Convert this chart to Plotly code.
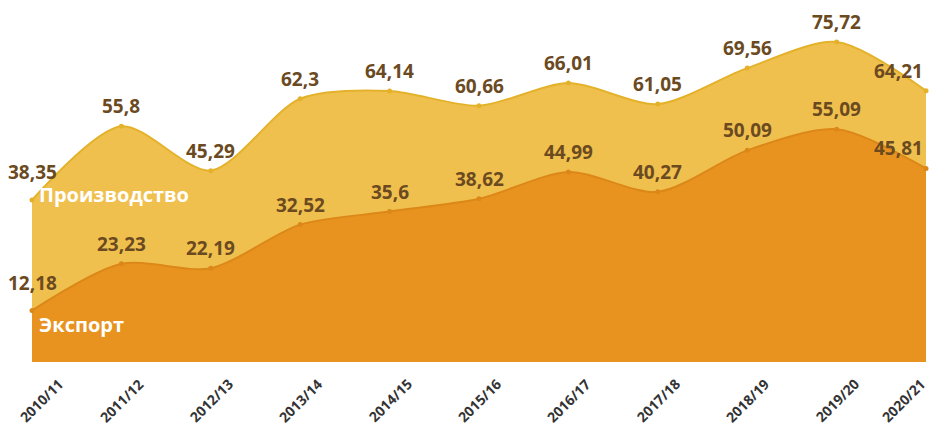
import plotly.graph_objects as go

categories = ["2010/11", "2011/12", "2012/13", "2013/14", "2014/15", "2015/16",
              "2016/17", "2017/18", "2018/19", "2019/20", "2020/21"]
production = [38.35, 55.8, 45.29, 62.3, 64.14, 60.66, 66.01, 61.05, 69.56, 75.72, 64.21]
export = [12.18, 23.23, 22.19, 32.52, 35.6, 38.62, 44.99, 40.27, 50.09, 55.09, 45.81]
series_names = ["Производство", "Экспорт"]

FONT = "Open Sans"
LABEL_COLOR = "#6B4A1F"

def fmt(v):
    s = f"{v:.2f}".rstrip("0").rstrip(".")
    return s.replace(".", ",")

fig = go.Figure()
fig.add_trace(go.Scatter(
    x=categories, y=production, mode="lines+markers", fill="tozeroy",
    line=dict(shape="spline", smoothing=0.8, color="#E4B22A", width=2),
    marker=dict(size=5, color="#E4B22A"),
    fillcolor="#F0C04F", name=series_names[0], cliponaxis=False, hoverinfo="skip"))
fig.add_trace(go.Scatter(
    x=categories, y=export, mode="lines+markers", fill="tozeroy",
    line=dict(shape="spline", smoothing=0.8, color="#DC8818", width=2),
    marker=dict(size=5, color="#DC8818"),
    fillcolor="#E8921F", name=series_names[1], cliponaxis=False, hoverinfo="skip"))

annotations = []
n = len(categories)
for series in (production, export):
    for i, (c, v) in enumerate(zip(categories, series)):
        xs, ys = 0, 5
        if i == 0:
            ys = 13
        if i == n - 1:
            xs = -28
        annotations.append(dict(
            x=c, y=v, xref="x", yref="y", text=fmt(v), showarrow=False,
            xanchor="center", yanchor="bottom", yshift=ys, xshift=xs,
            font=dict(family=FONT, size=19, color=LABEL_COLOR, weight="bold")))

# series name labels inside the areas
annotations.append(dict(x=categories[0], y=39.6, xref="x", yref="y", text=series_names[0],
                        showarrow=False, xanchor="left", yanchor="middle", xshift=5,
                        font=dict(family=FONT, size=20, color="white", weight="bold")))
annotations.append(dict(x=categories[0], y=8.8, xref="x", yref="y", text=series_names[1],
                        showarrow=False, xanchor="left", yanchor="middle", xshift=5,
                        font=dict(family=FONT, size=20, color="white", weight="bold")))

# rotated category labels, centred under each tick
for i, c in enumerate(categories):
    xs = 0
    if i == 0:
        xs = 9
    elif i == n - 1:
        xs = -23
    annotations.append(dict(
        x=c, y=0, xref="x", yref="paper", text=c, showarrow=False, textangle=-45,
        xanchor="center", yanchor="middle", yshift=-38, xshift=xs,
        font=dict(family=FONT, size=14, color="#333333", weight="bold")))

fig.update_layout(
    width=944, height=430,
    margin=dict(l=32, r=18, t=24, b=68),
    paper_bgcolor="white", plot_bgcolor="white",
    showlegend=False,
    annotations=annotations,
    xaxis=dict(showgrid=False, zeroline=False, showline=False, showticklabels=False,
               ticks="", range=[0, n - 1], fixedrange=True),
    yaxis=dict(showgrid=False, zeroline=False, showline=False, showticklabels=False,
               ticks="", range=[0, 80], fixedrange=True),
)

fig.write_html("out.html", config={"displayModeBar": False},
               post_script="document.body.style.margin='0';document.body.style.overflow='hidden';")
